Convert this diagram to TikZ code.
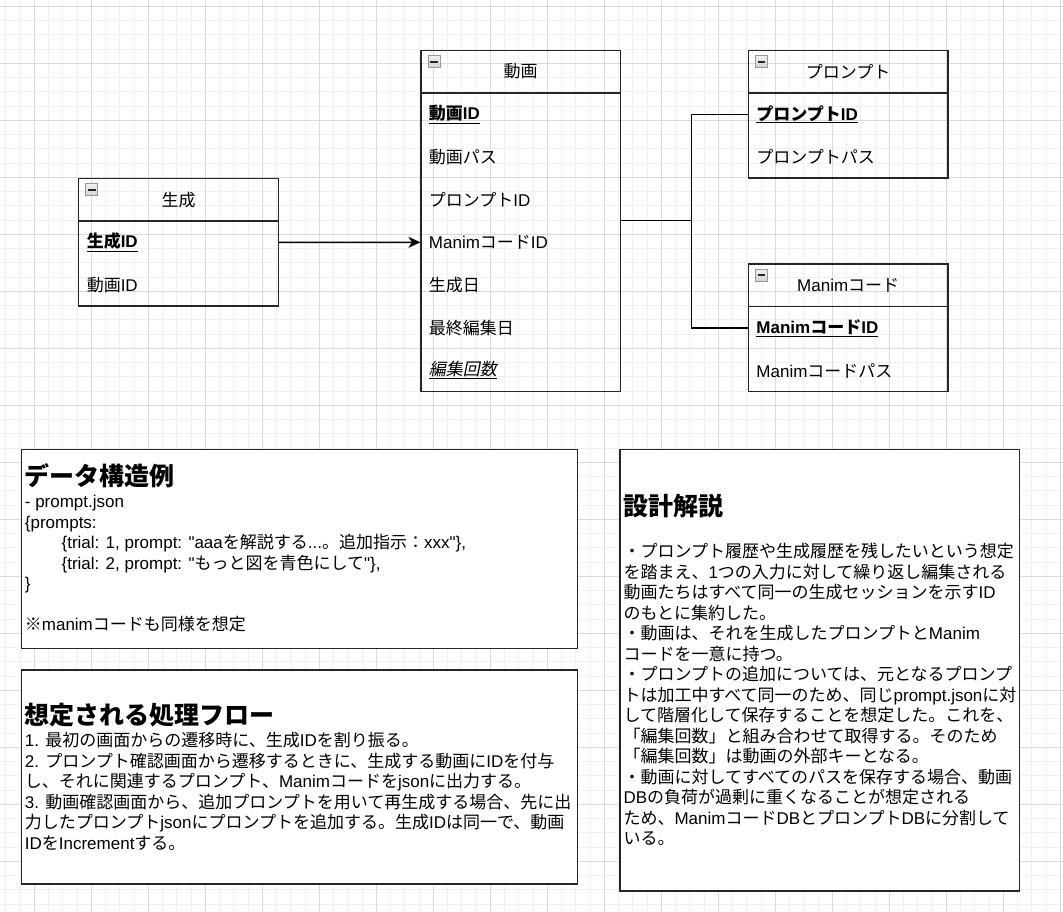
\documentclass[tikz,border=0pt]{standalone}
\usepackage{fontspec}
\setmainfont{Liberation Sans}
\newfontfamily\jpfont{Noto Sans CJK JP}[ItalicFont={Noto Sans CJK JP},ItalicFeatures={FakeSlant=0.2}]
\usetikzlibrary{positioning}
\usetikzlibrary{arrows.meta}
\definecolor{gridminor}{HTML}{F0F0F0}
\definecolor{gridmajor}{HTML}{DADADA}
\definecolor{linec}{HTML}{262626}
\XeTeXinterchartokenstate=1
\newXeTeXintercharclass\jpclass
\newcount\jpcnt
\jpcnt="3000
\loop\XeTeXcharclass\jpcnt=\jpclass\advance\jpcnt by 1 \ifnum\jpcnt<"A000 \repeat
\jpcnt="FF00
\loop\XeTeXcharclass\jpcnt=\jpclass\advance\jpcnt by 1 \ifnum\jpcnt<"FFF0 \repeat
\XeTeXcharclass"203B=\jpclass
\XeTeXinterchartoks 0 \jpclass = {\begingroup\jpfont}
\XeTeXinterchartoks 4095 \jpclass = {\begingroup\jpfont}
\XeTeXinterchartoks \jpclass 0 = {\endgroup}
\XeTeXinterchartoks \jpclass 4095 = {\endgroup}
\begin{document}
\begin{tikzpicture}[x=1pt,y=-1pt,>={Stealth[length=12pt,width=11pt,inset=3.5pt]},
	ent box/.style={draw=linec,line width=1.4pt,minimum width=199.5pt,inner sep=0pt,outer sep=0pt},
	head node/.style={draw=linec,line width=1.4pt,minimum width=199.5pt,minimum height=42.67pt,inner sep=0pt,outer sep=0pt,font=\fontsize{17}{20.5}\selectfont},
	field node/.style={minimum width=199.5pt,minimum height=42.67pt,inner xsep=8pt,inner ysep=0pt,outer sep=0pt,text width=183.5pt,align=left,font=\fontsize{17}{20.5}\selectfont},
	note node/.style={draw=linec,line width=1.4pt,fill=white,inner sep=0pt,outer sep=0pt,anchor=north west},
	note text/.style={align=left,inner sep=0pt,anchor=base west,font=\fontsize{17}{20.5}\selectfont},
	icon box/.style={draw=gray!80,line width=0.9pt,top color=gray!12,bottom color=gray!35},
	rel/.style={draw=black,line width=1.4pt},
	arr/.style={->,draw=black,line width=1.4pt,shorten >=0.5pt}]
	
	\useasboundingbox (0,0) rectangle (1063,912);
	\fill[white] (0,0) rectangle (1063,912);
	\foreach \k in {0,...,74} \draw[gridminor,line width=1pt] (5.8+14.25*\k,0) -- (5.8+14.25*\k,912);
	\foreach \k in {0,...,64} \draw[gridminor,line width=1pt] (0,6.3+14.25*\k) -- (1063,6.3+14.25*\k);
	\foreach \k in {0,...,18} \draw[gridmajor,line width=1pt] (34.3+57*\k,0) -- (34.3+57*\k,912);
	\foreach \k in {0,...,15} \draw[gridmajor,line width=1pt] (0,6.3+57*\k) -- (1063,6.3+57*\k);
	
	\node[ent box,minimum height=127.7pt] (seisei) at (178.5,242.2) {};
	\node[head node,anchor=north] (seiseiH) at (seisei.north) {生成};
	\node[field node,below=0pt of seiseiH] (g1) {\underline{\textbf{生成ID}}};
	\node[field node,below=0pt of g1] (g2) {動画ID};
	
	\node[ent box,minimum height=341pt] (douga) at (520.7,220.8) {};
	\node[head node,anchor=north] (dougaH) at (douga.north) {動画};
	\node[field node,below=0pt of dougaH] (d1) {\underline{\textbf{動画ID}}};
	\node[field node,below=0pt of d1] (d2) {動画パス};
	\node[field node,below=0pt of d2] (d3) {プロンプトID};
	\node[field node,below=0pt of d3] (d4) {ManimコードID};
	\node[field node,below=0pt of d4] (d5) {生成日};
	\node[field node,below=0pt of d5] (d6) {最終編集日};
	\node[field node,below=0pt of d6] (d7) {\underline{\itshape 編集回数}};
	
	\node[ent box,minimum height=127.7pt] (prompt) at (848.2,114.1) {};
	\node[head node,anchor=north] (promptH) at (prompt.north) {プロンプト};
	\node[field node,below=0pt of promptH] (p1) {\underline{\textbf{プロンプトID}}};
	\node[field node,below=0pt of p1] (p2) {プロンプトパス};
	
	\node[ent box,minimum height=127.7pt] (manim) at (848.2,327.7) {};
	\node[head node,anchor=north] (manimH) at (manim.north) {Manimコード};
	\node[field node,below=0pt of manimH] (m1) {\underline{\textbf{ManimコードID}}};
	\node[field node,below=0pt of m1] (m2) {Manimコードパス};
	
	\foreach \h in {seiseiH,dougaH,promptH,manimH}{
		\draw[icon box] ([shift={(7,5.3)}]\h.north west) rectangle ++(12,12);
		\draw[line width=2pt,black!85] ([shift={(9.2,11.3)}]\h.north west) -- ++(7.6,0);
	}
	
	\draw[arr] (g1.east) -- (d4.west);
	\draw[rel] (douga.east) -- ++(71,0) |- (p1.west);
	\draw[rel] (douga.east) -- ++(71,0) |- (m1.west);
	
	\node[note node,minimum width=556pt,minimum height=199.4pt] (dataBox) at (21.7,449.3) {};
	\node[note text] (dataTxt) at (24.7,630.8) {{\fontsize{25}{30}\selectfont\bfseries データ構造例}\\[2.2pt]
		- prompt.json\\
		\{prompts:\\
		\hspace*{36.7pt}\{trial: 1, prompt: \textquotedbl aaaを解説する...。追加指示：xxx\textquotedbl\},\\
		\hspace*{36.7pt}\{trial: 2, prompt: \textquotedbl もっと図を青色にして\textquotedbl\},\\
		\}\\
		\mbox{}\\
		※manimコードも同様を想定};
	
	\node[note node,minimum width=556pt,minimum height=214pt] (flowBox) at (21.7,670) {};
	\node[note text] (flowTxt) at (24.7,849.2) {{\fontsize{25}{30}\selectfont\bfseries 想定される処理フロー}\\[1.5pt]
		1. 最初の画面からの遷移時に、生成IDを割り振る。\\
		2. プロンプト確認画面から遷移するときに、生成する動画にIDを付与\\
		し、それに関連するプロンプト、Manimコードをjsonに出力する。\\
		3. 動画確認画面から、追加プロンプトを用いて再生成する場合、先に出\\
		力したプロンプトjsonにプロンプトを追加する。生成IDは同一で、動画\\
		IDをIncrementする。};
	
	\node[note node,minimum width=399.3pt,minimum height=441.7pt] (designBox) at (620,449.3) {};
	\node[note text] (designTxt) at (623.3,844.8) {{\fontsize{25}{30}\selectfont\bfseries 設計解説}\\[21.5pt]
		・プロンプト履歴や生成履歴を残したいという想定\\
		を踏まえ、1つの入力に対して繰り返し編集される\\
		動画たちはすべて同一の生成セッションを示すID\\
		のもとに集約した。\\
		・動画は、それを生成したプロンプトとManim\\
		コードを一意に持つ。\\
		・プロンプトの追加については、元となるプロンプ\\
		トは加工中すべて同一のため、同じprompt.jsonに対\\
		して階層化して保存することを想定した。これを、\\
		「編集回数」と組み合わせて取得する。そのため\\
		「編集回数」は動画の外部キーとなる。\\
		・動画に対してすべてのパスを保存する場合、動画\\
		DBの負荷が過剰に重くなることが想定される\\
		ため、ManimコードDBとプロンプトDBに分割して\\
		いる。};
\end{tikzpicture}
\end{document}
